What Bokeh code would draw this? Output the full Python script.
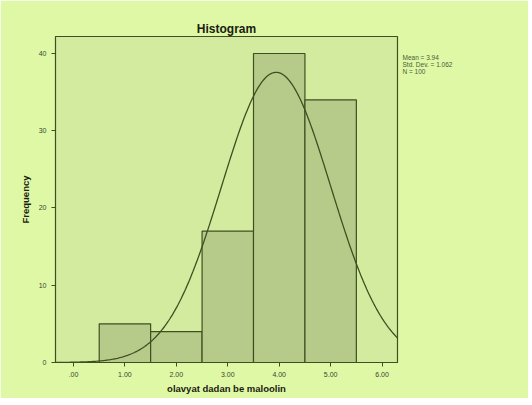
import numpy as np
from bokeh.plotting import figure
from bokeh.models import FixedTicker, LinearAxis, Range1d, ColumnDataSource
from bokeh.embed import file_html
from bokeh.resources import INLINE

# Data
bin_centers = [1, 2, 3, 4, 5]
frequencies = [5, 4, 17, 40, 34]
x_ticks = [0, 1, 2, 3, 4, 5, 6]
x_tick_labels = [".00", "1.00", "2.00", "3.00", "4.00", "5.00", "6.00"]
y_ticks = [0, 10, 20, 30, 40]
y_tick_labels = ["0", "10", "20", "30", "40"]
mean = 3.94
std_dev = 1.062
n_obs = 100
bin_width = 1.0
stats_lines = ["Mean = 3.94", "Std. Dev. = 1.062", "N = 100"]
stats_y = [39.5, 38.6, 37.7]

BG = "#dff8a6"
PLOT_BG = "#d3eb9e"
BAR = "#b6cb89"
DARK = "#3f4f22"

p = figure(width=528, height=398, output_backend="svg", toolbar_location=None,
           x_range=Range1d(-0.35, 6.3), y_range=Range1d(0, 42.2),
           min_border_left=55, min_border_right=131, min_border_top=36,
           min_border_bottom=36)
p.background_fill_color = PLOT_BG
p.border_fill_color = BG
p.outline_line_color = DARK
p.outline_line_width = 1.2
p.grid.visible = False

p.title.text = "Histogram"
p.title.align = "center"
p.title.text_font = "Liberation Sans"
p.title.text_font_size = "12px"
p.title.text_font_style = "bold"
p.title.text_color = "#1a2010"
p.title.standoff = 2

src = ColumnDataSource(dict(x=bin_centers, top=frequencies))
p.vbar(x="x", top="top", bottom=0, width=bin_width, source=src,
       fill_color=BAR, line_color=DARK, line_width=1.2)

xs = np.linspace(-0.35, 6.3, 300)
ys = n_obs * bin_width / (std_dev * np.sqrt(2 * np.pi)) * np.exp(-0.5 * ((xs - mean) / std_dev) ** 2)
p.line(xs, ys, line_color=DARK, line_width=1.3)

p.xaxis.ticker = FixedTicker(ticks=x_ticks)
p.xaxis.major_label_overrides = {t: l for t, l in zip(x_ticks, x_tick_labels)}
p.yaxis.ticker = FixedTicker(ticks=y_ticks)
p.yaxis.major_label_overrides = {t: l for t, l in zip(y_ticks, y_tick_labels)}
for ax in (p.xaxis, p.yaxis):
    ax.axis_line_color = DARK
    ax.major_tick_line_color = DARK
    ax.minor_tick_line_color = None
    ax.major_tick_out = 4
    ax.major_tick_in = 0
    ax.major_label_text_font = "Liberation Sans"
    ax.major_label_text_font_size = "7px"
    ax.major_label_text_color = "#3a4530"
    ax.axis_label_text_font = "Liberation Sans"
    ax.axis_label_text_font_size = "9.5px"
    ax.axis_label_text_font_style = "bold"
    ax.axis_label_text_color = "#1a2010"
p.xaxis.axis_label = "olavyat dadan be maloolin"
p.yaxis.axis_label = "Frequency"
p.xaxis.axis_label_standoff = 3
p.yaxis.axis_label_standoff = 5

# statistics box text, placed as labels of an invisible right-hand axis
stats_axis = LinearAxis(ticker=FixedTicker(ticks=stats_y),
                        major_label_overrides={y: t for y, t in zip(stats_y, stats_lines)})
stats_axis.axis_line_color = None
stats_axis.major_tick_line_color = None
stats_axis.minor_tick_line_color = None
stats_axis.major_tick_out = 0
stats_axis.major_tick_in = 0
stats_axis.major_label_standoff = 5
stats_axis.major_label_text_font = "Liberation Sans"
stats_axis.major_label_text_font_size = "6.5px"
stats_axis.major_label_text_color = "#4a5a3a"
p.add_layout(stats_axis, "right")

open("out.html", "w").write(file_html(p, INLINE))
